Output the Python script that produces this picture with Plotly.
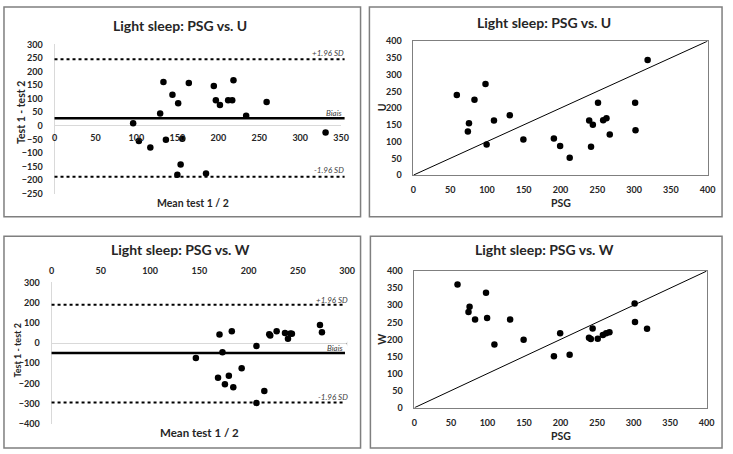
import plotly.graph_objects as go

W, H = 733, 454

# ---------------- data ----------------
# Bland-Altman PSG vs U
ba_u_mean = [96, 103, 117, 129, 133, 136, 144, 151, 150, 154, 156, 164, 185, 194.5, 197, 202, 212, 217, 218.5, 234, 259, 331]
ba_u_diff = [9, -56, -80, 45, 161, -51, 114, 83, -180, -143, -48, 158, -176, 147, 94, 77, 94, 94, 168, 37, 88, -25]
ba_u_bias, ba_u_upper, ba_u_lower = 28, 245, -188

# Scatter PSG vs U
psg = [59, 74, 75.5, 83, 98, 99.5, 109.5, 131, 149.5, 191, 199.5, 212.5, 239, 241.5, 244, 251, 258, 262.5, 267, 301.5, 302, 318.5]
u_vals = [239, 130, 155, 225, 272, 91, 163, 179, 106, 109, 87, 52, 163, 85, 150, 216, 164, 170, 121, 216, 134, 344]

# Bland-Altman PSG vs W
ba_w_mean = [146.5, 169, 170.5, 173.5, 176, 180, 183, 184.5, 193, 208, 208, 216, 221, 222, 228.5, 237, 240, 242.5, 244, 272.5, 274.5, 303]
ba_w_diff = [-74, -172, 42, -46, -204, -162, 58, -218, -124, -15, -296, -237, 44, 38, 58, 50, 21, 47, 46, 89, 53, -3]
ba_w_bias, ba_w_upper, ba_w_lower = -49, 190, -294

# Scatter PSG vs W
w_vals = [361, 280, 296, 258, 337, 263, 185, 258, 199, 151, 218, 155, 205, 201, 232, 202, 213, 218, 221, 305, 251, 231]

TITLE_U = "Light sleep: PSG vs. U"
TITLE_W = "Light sleep: PSG vs. W"
BA_X_TITLE = "Mean test 1 / 2"
BA_Y_TITLE = "Test 1 - test 2"

# ---------------- helpers ----------------
def px(x):
    return x / W

def py(y):
    return 1 - y / H

FONT = "Lato, 'Open Sans', sans-serif"
TXT = "#262626"
FRAME = "#7f7f7f"
LIGHT = "#d9d9d9"

fig = go.Figure()

# panel geometry (pixels)
P1 = dict(x0=52.3, x1=343.3, y0=39.3, y1=192.3)
P2 = dict(x0=416.7, x1=715.3, y0=36.0, y1=173.3)
P3 = dict(x0=49.3, x1=349.3, y0=283.3, y1=428.3)
P4 = dict(x0=417.7, x1=714.3, y0=271.7, y1=411.7)

def dom(p):
    return [px(p["x0"]), px(p["x1"])], [py(p["y1"]), py(p["y0"])]

mk = dict(color="black", size=6.5)

fig.add_trace(go.Scatter(x=ba_u_mean, y=ba_u_diff, mode="markers", marker=mk, xaxis="x", yaxis="y", cliponaxis=False))
fig.add_trace(go.Scatter(x=psg, y=u_vals, mode="markers", marker=mk, xaxis="x2", yaxis="y2"))
fig.add_trace(go.Scatter(x=ba_w_mean, y=ba_w_diff, mode="markers", marker=mk, xaxis="x3", yaxis="y3", cliponaxis=True))
fig.add_trace(go.Scatter(x=psg, y=w_vals, mode="markers", marker=mk, xaxis="x4", yaxis="y4"))

# identity lines
AX_MAX = 400
for xa, ya in (("x2", "y2"), ("x4", "y4")):
    fig.add_trace(go.Scatter(x=[0, AX_MAX], y=[0, AX_MAX], mode="lines",
                             line=dict(color="black", width=1), xaxis=xa, yaxis=ya))

tickfont = dict(family=FONT, size=9, color=TXT, weight="bold")

# panel 1 axes
d1x, d1y = dom(P1)
y1_range = [-250, 300]
zero1 = d1y[0] + (0 - y1_range[0]) / (y1_range[1] - y1_range[0]) * (d1y[1] - d1y[0])
fig.update_layout(
    xaxis=dict(domain=d1x, range=[0, 350], dtick=50, anchor="free", position=zero1,
               showline=False, showgrid=False, zeroline=False, ticks="", tickfont=tickfont,
               ticklabelstandoff=5),
    yaxis=dict(domain=d1y, range=y1_range, dtick=50, anchor="x", showline=True, linecolor=LIGHT,
               linewidth=1, showgrid=False, zeroline=True, zerolinecolor=LIGHT, zerolinewidth=1,
               ticks="", tickfont=tickfont, ticklabelstandoff=9),
)

# panel 2 axes
d2x, d2y = dom(P2)
fig.update_layout(
    xaxis2=dict(domain=d2x, range=[0, 400], dtick=50, anchor="y2", showline=True, mirror=True,
                linecolor=FRAME, linewidth=1, showgrid=False, zeroline=False, ticks="",
                tickfont=tickfont, ticklabelstandoff=6),
    yaxis2=dict(domain=d2y, range=[0, 400], dtick=50, anchor="x2", showline=True, mirror=True,
                linecolor=FRAME, linewidth=1, showgrid=False, zeroline=False, ticks="",
                tickfont=tickfont, ticklabelstandoff=9),
)

# panel 3 axes
d3x, d3y = dom(P3)
fig.update_layout(
    xaxis3=dict(domain=d3x, range=[0, 300], dtick=50, anchor="y3", side="top",
                showline=False, showgrid=False, zeroline=False, ticks="", tickfont=tickfont,
                ticklabelstandoff=6),
    yaxis3=dict(domain=d3y, range=[-400, 300], dtick=100, anchor="x3", showline=True, linecolor=LIGHT,
                linewidth=1, showgrid=False, zeroline=True, zerolinecolor=LIGHT, zerolinewidth=1,
                ticks="", tickfont=tickfont, ticklabelstandoff=9),
)

# panel 4 axes
d4x, d4y = dom(P4)
fig.update_layout(
    xaxis4=dict(domain=d4x, range=[0, 400], dtick=50, anchor="y4", showline=True, mirror=True,
                linecolor=FRAME, linewidth=1, showgrid=False, zeroline=False, ticks="",
                tickfont=tickfont, ticklabelstandoff=6),
    yaxis4=dict(domain=d4y, range=[0, 400], dtick=50, anchor="x4", showline=True, mirror=True,
                linecolor=FRAME, linewidth=1, showgrid=False, zeroline=False, ticks="",
                tickfont=tickfont, ticklabelstandoff=9),
)

shapes = []
# outer panel frames
for (x0, y0, x1, y1) in ((1, 1, 363, 216), (372, 1, 730, 216), (1, 236, 363, 453), (373, 236, 730, 453)):
    shapes.append(dict(type="rect", xref="paper", yref="paper", x0=px(x0), x1=px(x1), y0=py(y1), y1=py(y0),
                       line=dict(color=FRAME, width=1.5), fillcolor="rgba(0,0,0,0)", layer="below"))

# Bland-Altman lines
def ba_lines(xr, yr, bias, up, lo, xend):
    out = []
    for val, dash, wid in ((up, "dot", 2), (lo, "dot", 2), (bias, "solid", 2.5)):
        out.append(dict(type="line", xref=xr + " domain", yref=yr, x0=0, x1=xend, y0=val, y1=val,
                        line=dict(color="black", width=wid, dash=dash)))
    return out

shapes += ba_lines("x", "y", ba_u_bias, ba_u_upper, ba_u_lower, 1.012)
shapes += ba_lines("x3", "y3", ba_w_bias, ba_w_upper, ba_w_lower, 0.993)
fig.update_layout(shapes=shapes)

ann = []
def text(x, y, s, size, color=TXT, bold=True, italic=False, angle=0, xanchor="center"):
    ann.append(dict(x=px(x), y=py(y), xref="paper", yref="paper", text=s, showarrow=False,
                    xanchor=xanchor, yanchor="middle", textangle=angle,
                    font=dict(family=FONT, size=size, color=color,
                              weight="bold" if bold else "normal",
                              style="italic" if italic else "normal")))

# titles
text(180, 19.5, TITLE_U, 14)
text(549, 16.5, TITLE_U, 14)
text(180.5, 250, TITLE_W, 14)
text(549.7, 249.5, TITLE_W, 14)

# axis titles
text(19, 109, BA_Y_TITLE, 10.5, angle=-90)
text(192.5, 201.7, BA_X_TITLE, 10.5)
text(566, 201.7, "PSG", 10.5)
text(384.3, 104.3, "U", 10.5, angle=-90)
text(15, 353.3, BA_Y_TITLE, 9, angle=-90)
text(199, 436.7, BA_X_TITLE, 11.5)
text(567, 441, "PSG", 10.5)
text(385, 341.7, "W", 10.5, angle=-90)

# BA line labels
lab = "#404040"
text(348.5, 48.3, "+1.96 SD", 8, color=lab, bold=False, italic=True, xanchor="right")
text(347, 109.3, "Biais", 8, color=lab, bold=False, italic=True, xanchor="right")
text(348.5, 168.3, "-1.96 SD", 8, color=lab, bold=False, italic=True, xanchor="right")
text(352.5, 301, "+1.96 SD", 8, color=lab, bold=False, italic=True, xanchor="right")
text(348.5, 351, "Biais", 8, color=lab, bold=False, italic=True, xanchor="right")
text(352.5, 401, "-1.96 SD", 8, color=lab, bold=False, italic=True, xanchor="right")

fig.update_layout(annotations=ann, width=W, height=H, autosize=False,
                  margin=dict(l=0, r=0, t=0, b=0), showlegend=False,
                  paper_bgcolor="white", plot_bgcolor="rgba(0,0,0,0)",
                  font=dict(family=FONT, color=TXT))

fig.write_html("out.html", config={"displayModeBar": False},
               post_script="document.body.style.margin='0px';")
